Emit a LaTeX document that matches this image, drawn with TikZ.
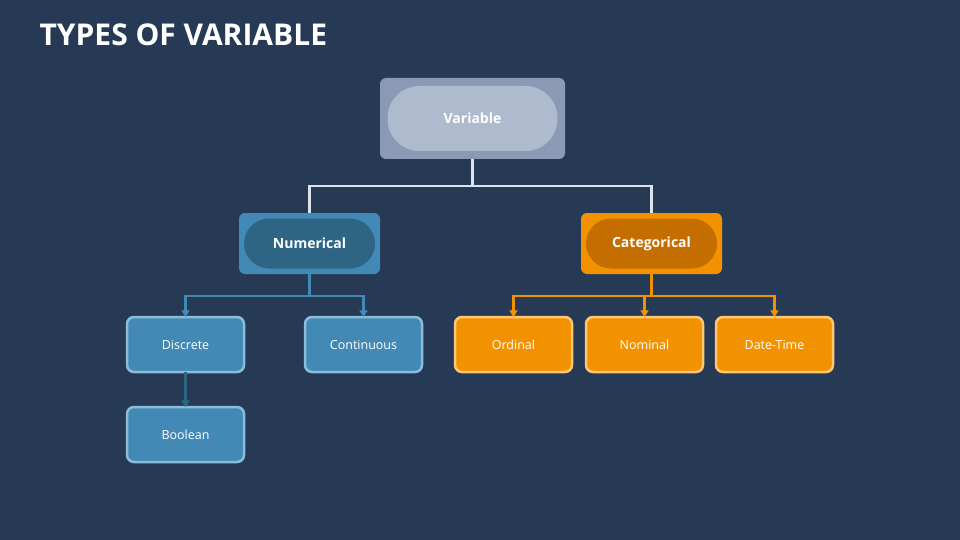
\documentclass[tikz,border=0pt]{standalone}
\usepackage{fontspec}
\setmainfont{Open Sans}
\usetikzlibrary{arrows.meta}
\definecolor{bgblue}{HTML}{263A55}
\definecolor{varouter}{HTML}{8B9AB4}
\definecolor{varinner}{HTML}{AEBACD}
\definecolor{numblue}{HTML}{4289B6}
\definecolor{numdark}{HTML}{2E6585}
\definecolor{numedge}{HTML}{8DBCD9}
\definecolor{catorange}{HTML}{F39200}
\definecolor{catdark}{HTML}{C46E00}
\definecolor{catedge}{HTML}{FFC773}
\definecolor{linegray}{HTML}{DDE3EA}
\tikzset{
  outerbox/.style={rounded corners=6pt, minimum width=141pt, minimum height=61pt},
  pill/.style={rounded corners=25pt, minimum width=131pt, minimum height=50pt, text=white, font=\bfseries\fontsize{14}{16}\selectfont},
  leaf/.style={draw, line width=2.5pt, rounded corners=7pt, minimum width=117pt, minimum height=55pt, text=white, font=\fontsize{12.5}{14}\selectfont},
  link/.style={line width=2.5pt},
  arr/.style={link, -{Triangle[length=7pt,width=8pt]}}
}
\begin{document}
\begin{tikzpicture}[x=1pt,y=-1pt]
  \fill[bgblue] (0,0) rectangle (960,540);
  \node[anchor=west, text=white, font=\bfseries\fontsize{30}{34}\selectfont] (title) at (36,35) {TYPES OF VARIABLE};

  % root
  \node[outerbox, fill=varouter, minimum width=185pt, minimum height=81pt] (varbox) at (472.5,118.5) {};
  \node[pill, fill=varinner, minimum width=170pt, minimum height=65pt, rounded corners=32pt] (var) at (varbox.center) {Variable};

  % second level
  \node[outerbox, fill=numblue] (numbox) at (309.5,243.5) {};
  \node[pill, fill=numdark] (num) at (numbox.center) {Numerical};
  \node[outerbox, fill=catorange] (catbox) at (651.5,243.5) {};
  \node[pill, fill=catdark] (cat) at (catbox.center) {Categorical};

  % leaves
  \node[leaf, fill=numblue, draw=numedge] (disc) at (185.5,344.5) {Discrete};
  \node[leaf, fill=numblue, draw=numedge] (cont) at (363.5,344.5) {Continuous};
  \node[leaf, fill=numblue, draw=numedge] (bool) at (185.5,434.5) {Boolean};
  \node[leaf, fill=catorange, draw=catedge] (ord) at (513.5,344.5) {Ordinal};
  \node[leaf, fill=catorange, draw=catedge] (nom) at (644.5,344.5) {Nominal};
  \node[leaf, fill=catorange, draw=catedge] (date) at (774.5,344.5) {Date-Time};

  % connectors
  \draw[link, linegray] (varbox.south) -- ++(0,27) -| (numbox.north);
  \draw[link, linegray] (varbox.south) -- ++(0,27) -| (catbox.north);
  \draw[link, numblue] (numbox.south) -- ++(0,22) coordinate (nj);
  \draw[arr, numblue] (nj) -| ([yshift=-1.5pt]disc.north);
  \draw[arr, numblue] (nj) -| ([yshift=-1.5pt]cont.north);
  \draw[arr, numdark] ([yshift=1.5pt]disc.south) -- ([yshift=-1.5pt]bool.north);
  \draw[link, catorange] (catbox.south) -- ++(0,22) coordinate (cj);
  \draw[arr, catorange] (cj) -| ([yshift=-1.5pt]ord.north);
  \draw[arr, catorange] (cj) -| ([yshift=-1.5pt]nom.north);
  \draw[arr, catorange] (cj) -| ([yshift=-1.5pt]date.north);
\end{tikzpicture}
\end{document}
